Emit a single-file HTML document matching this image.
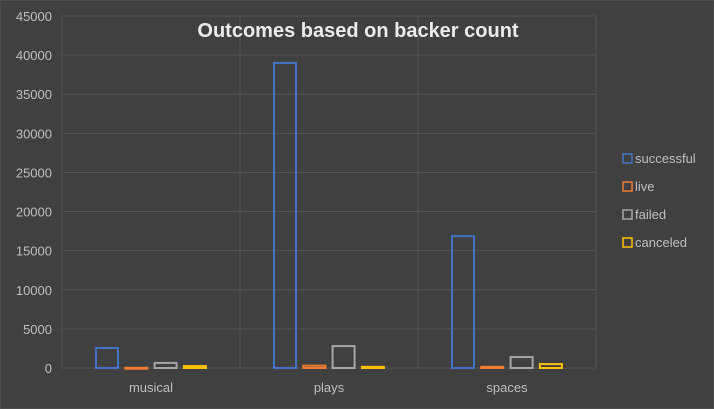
<!DOCTYPE html>
<html><head><meta charset="utf-8"><style>
body{margin:0;background:#404040;}
svg{display:block;font-family:"Liberation Sans",sans-serif;}
</style></head><body>
<svg id="c" width="714" height="409">
<rect width="714" height="409" fill="#404040" stroke="#595959"/>
<g id="grid"></g><g id="bars"></g><g id="legend"></g>
<text x="358" y="37" text-anchor="middle" font-size="20" font-weight="bold" fill="#ebebeb">Outcomes based on backer count</text>
</svg>
<script>
const categories=["musical","plays","spaces"];
const seriesNames=["successful","live","failed","canceled"];
const successful=[2560,39000,16850];
const live=[30,300,150];
const failed=[650,2800,1400];
const canceled=[250,150,500];
const yTicks=[0,5000,10000,15000,20000,25000,30000,35000,40000,45000];
const colors=["#4472c4","#ed7d31","#a5a5a5","#ffc000"];
const NS="http://www.w3.org/2000/svg";
function mk(t,a,p){const e=document.createElementNS(NS,t);for(const k in a)e.setAttribute(k,a[k]);p.appendChild(e);return e;}
const x0=62,catW=178,yBase=368,yTop=16,yMax=45000;
const y=v=>yBase-(v/yMax)*(yBase-yTop);
const grid=document.getElementById('grid'),bars=document.getElementById('bars'),leg=document.getElementById('legend');
yTicks.forEach(t=>{
 const l=mk('line',{x1:x0,x2:596,y1:y(t),y2:y(t),stroke:'#555','stroke-width':1},grid);
 
 
 const tx=mk('text',{x:52,y:y(t)+5,'text-anchor':'end','font-size':13,fill:'#bfbfbf'},grid);
 tx.textContent=t;
 
 
});
for(let i=0;i<=3;i++){const l=mk('line',{x1:x0+i*catW,x2:x0+i*catW,y1:yTop,y2:yBase,stroke:'#555'},grid);
 
 }
const series=[successful,live,failed,canceled];
categories.forEach((c,ci)=>{
 series.forEach((s,si)=>{
  const bx=x0+ci*catW+34+si*29.3, top=y(s[ci]);
  const r=mk('rect',{x:bx,y:top,width:22,height:Math.max(yBase-top,1),fill:'none',stroke:colors[si],'stroke-width':2},bars);
  
  
 });
 const t=mk('text',{x:x0+ci*catW+89,y:392,'text-anchor':'middle','font-size':13,fill:'#bfbfbf'},bars);
 t.textContent=c;
 
 
});
seriesNames.forEach((n,i)=>{
 const yy=159+i*28;
 const r=mk('rect',{x:623,y:yy-5,width:9,height:9,fill:'none',stroke:colors[i],'stroke-width':1.5},leg);
 
 
 const t=mk('text',{x:635,y:yy+4,'font-size':13,fill:'#bfbfbf'},leg);
 t.textContent=n;
 
 
});
</script>
</body></html>
